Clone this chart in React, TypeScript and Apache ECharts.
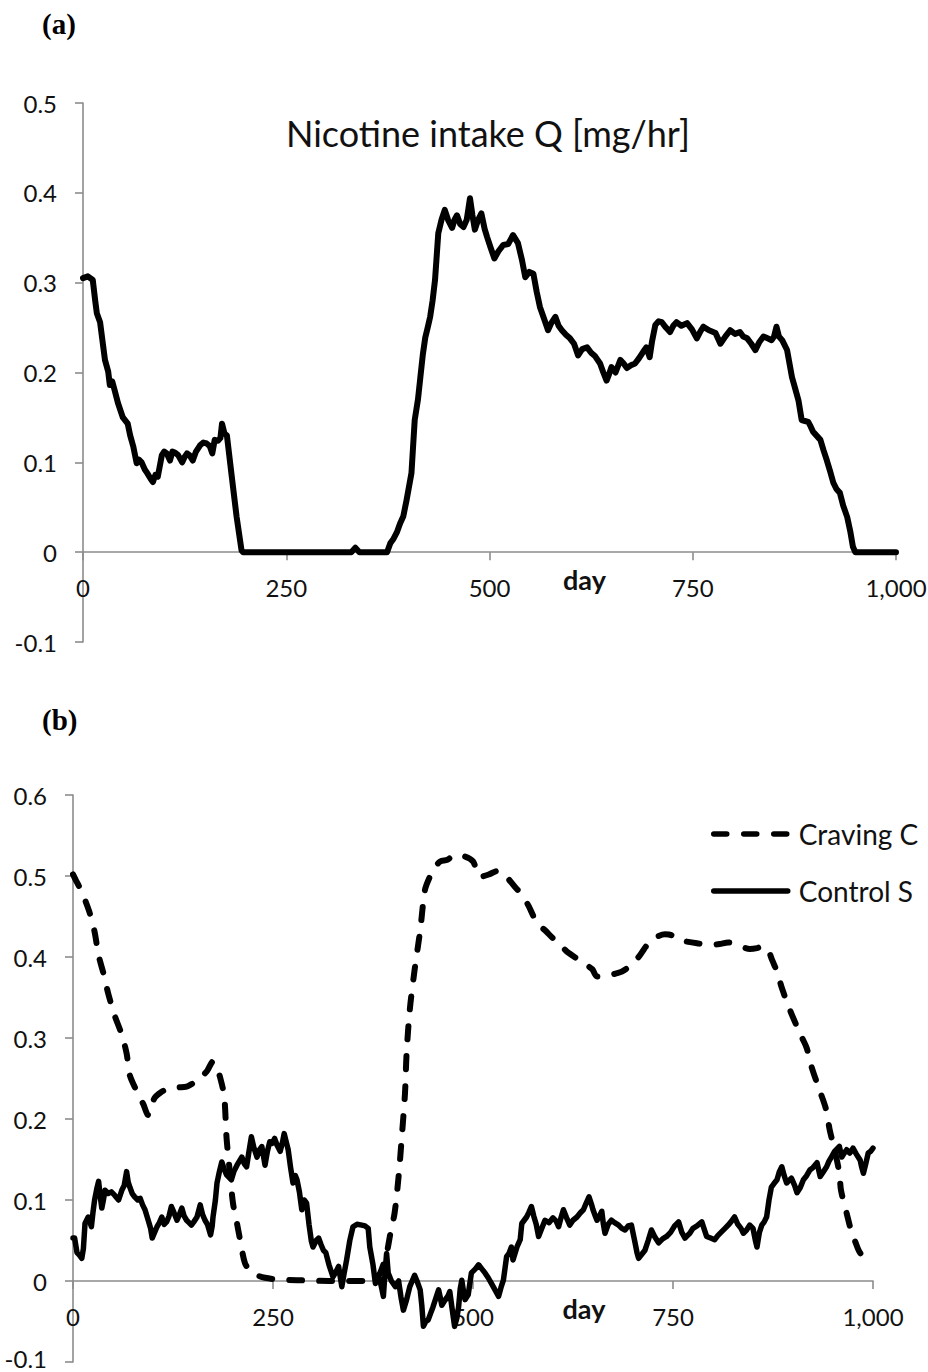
import React, { useEffect, useRef } from "react";
import * as echarts from "echarts";

// ---- Panel (a): Nicotine intake Q [mg/hr]
const qDays = [0, 6, 12, 15, 17, 21, 24, 27, 31, 33, 36, 39, 43, 49, 55, 58, 62, 66, 69, 72, 76, 79, 83, 86, 89, 92, 97, 100, 103, 107, 110, 113, 117, 122, 125, 128, 131, 135, 139, 144, 148, 152, 156, 159, 162, 166, 169, 171, 174, 177, 183, 189, 195, 197, 330, 335, 340, 374, 378, 382, 386, 390, 394, 398, 404, 408, 412, 415, 418, 421, 424, 427, 430, 433, 437, 441, 445, 449, 454, 457, 460, 464, 468, 472, 476, 479, 482, 486, 490, 494, 497, 501, 506, 511, 517, 523, 529, 535, 540, 544, 549, 554, 558, 562, 567, 572, 576, 581, 585, 589, 594, 599, 604, 609, 614, 620, 625, 630, 636, 640, 644, 647, 650, 655, 661, 665, 669, 674, 679, 684, 689, 693, 697, 700, 704, 708, 712, 717, 722, 726, 730, 736, 743, 749, 755, 759, 763, 770, 778, 784, 790, 796, 802, 808, 812, 817, 822, 827, 832, 837, 842, 847, 850, 853, 856, 860, 866, 872, 876, 880, 884, 888, 892, 895, 898, 902, 907, 911, 915, 919, 923, 927, 931, 935, 940, 944, 947, 950, 1000];
const qValues = [0.305, 0.307, 0.303, 0.28, 0.266, 0.256, 0.235, 0.214, 0.201, 0.186, 0.19, 0.18, 0.166, 0.15, 0.143, 0.13, 0.117, 0.099, 0.103, 0.1, 0.092, 0.088, 0.082, 0.078, 0.086, 0.084, 0.108, 0.112, 0.11, 0.102, 0.112, 0.111, 0.108, 0.1, 0.106, 0.11, 0.108, 0.102, 0.112, 0.119, 0.122, 0.121, 0.118, 0.11, 0.125, 0.124, 0.127, 0.143, 0.132, 0.13, 0.084, 0.039, 0.002, 0, 0, 0.005, 0, 0, 0.01, 0.015, 0.022, 0.032, 0.04, 0.058, 0.088, 0.147, 0.17, 0.195, 0.22, 0.239, 0.25, 0.262, 0.28, 0.303, 0.355, 0.37, 0.381, 0.37, 0.361, 0.37, 0.375, 0.365, 0.362, 0.37, 0.394, 0.375, 0.359, 0.37, 0.377, 0.36, 0.351, 0.34, 0.327, 0.335, 0.342, 0.343, 0.353, 0.344, 0.325, 0.306, 0.312, 0.31, 0.29, 0.273, 0.26, 0.247, 0.255, 0.262, 0.252, 0.247, 0.242, 0.238, 0.232, 0.219, 0.226, 0.228, 0.222, 0.218, 0.21, 0.2, 0.191, 0.198, 0.206, 0.2, 0.214, 0.21, 0.205, 0.208, 0.21, 0.216, 0.223, 0.228, 0.217, 0.235, 0.253, 0.257, 0.256, 0.25, 0.245, 0.252, 0.256, 0.252, 0.255, 0.248, 0.238, 0.245, 0.251, 0.247, 0.244, 0.232, 0.24, 0.247, 0.243, 0.245, 0.24, 0.238, 0.232, 0.225, 0.234, 0.24, 0.238, 0.236, 0.24, 0.251, 0.24, 0.236, 0.225, 0.195, 0.182, 0.169, 0.147, 0.146, 0.145, 0.14, 0.134, 0.13, 0.125, 0.113, 0.102, 0.09, 0.077, 0.07, 0.066, 0.052, 0.039, 0.022, 0.006, 0, 0];

// ---- Panel (b): Craving C (dashed)
const cDays = [0, 5, 11, 16, 21, 27, 32, 38, 44, 52, 61, 67, 71, 76, 82, 88, 94, 98, 102, 110, 118, 123, 132, 142, 150, 155, 161, 168, 175, 180, 184, 189, 192, 196, 200, 205, 210, 215, 222, 230, 240, 255, 280, 320, 370, 378, 384, 392, 397, 402, 407, 411, 415, 417, 421, 427, 434, 440, 446, 452, 459, 468, 477, 490, 500, 509, 520, 530, 538, 552, 560, 569, 580, 590, 600, 608, 617, 630, 642, 649, 655, 664, 671, 680, 686, 695, 707, 714, 721, 730, 740, 748, 757, 767, 780, 796, 808, 819, 832, 846, 855, 861, 866, 869, 874, 880, 886, 896, 905, 911, 917, 923, 933, 941, 946, 952, 958, 960, 967, 973, 978, 983, 991, 998];
const cValues = [0.502, 0.492, 0.481, 0.468, 0.454, 0.431, 0.402, 0.38, 0.355, 0.328, 0.304, 0.281, 0.254, 0.242, 0.23, 0.218, 0.205, 0.215, 0.226, 0.233, 0.237, 0.238, 0.239, 0.24, 0.244, 0.246, 0.252, 0.26, 0.271, 0.262, 0.251, 0.228, 0.176, 0.135, 0.096, 0.071, 0.045, 0.022, 0.012, 0.007, 0.004, 0.002, 0.001, 0, 0, 0.004, 0.01, 0.034, 0.06, 0.084, 0.129, 0.178, 0.232, 0.281, 0.335, 0.384, 0.433, 0.483, 0.499, 0.51, 0.518, 0.52, 0.526, 0.524, 0.518, 0.499, 0.502, 0.506, 0.503, 0.487, 0.478, 0.464, 0.442, 0.433, 0.423, 0.416, 0.407, 0.398, 0.39, 0.385, 0.376, 0.378, 0.378, 0.38, 0.382, 0.388, 0.4, 0.41, 0.419, 0.425, 0.428, 0.427, 0.421, 0.419, 0.417, 0.415, 0.416, 0.418, 0.414, 0.41, 0.411, 0.413, 0.412, 0.409, 0.396, 0.382, 0.362, 0.335, 0.314, 0.301, 0.288, 0.265, 0.236, 0.213, 0.186, 0.162, 0.133, 0.112, 0.084, 0.061, 0.048, 0.036, 0.026, 0.018];

// ---- Panel (b): Control S (solid)
const sDays = [0, 2, 5, 8, 11, 13, 15, 19, 23, 25, 27, 30, 32, 34, 36, 38, 40, 44, 48, 52, 57, 61, 64, 67, 69, 71, 74, 77, 81, 84, 87, 90, 94, 97, 99, 102, 105, 108, 111, 114, 117, 120, 123, 126, 130, 133, 136, 139, 142, 145, 148, 151, 155, 159, 162, 165, 168, 172, 174, 175, 178, 180, 183, 186, 189, 192, 195, 198, 201, 205, 208, 211, 214, 217, 220, 223, 226, 230, 233, 236, 238, 240, 243, 246, 249, 252, 255, 259, 262, 264, 267, 269, 272, 275, 278, 280, 283, 286, 289, 292, 295, 298, 300, 304, 307, 310, 313, 316, 320, 325, 328, 332, 336, 339, 342, 346, 350, 355, 361, 365, 369, 371, 375, 378, 382, 385, 388, 390, 392, 394, 398, 403, 407, 410, 413, 417, 421, 424, 427, 430, 434, 436, 438, 441, 444, 447, 450, 454, 457, 459, 461, 464, 467, 469, 471, 474, 477, 480, 482, 484, 486, 488, 490, 494, 498, 503, 507, 511, 515, 519, 523, 527, 532, 535, 538, 542, 545, 548, 550, 555, 559, 561, 564, 567, 570, 573, 576, 579, 582, 586, 590, 595, 600, 604, 607, 610, 613, 617, 621, 625, 630, 634, 638, 641, 645, 648, 650, 653, 655, 658, 661, 663, 665, 669, 673, 677, 682, 686, 690, 694, 698, 702, 705, 707, 711, 715, 719, 723, 727, 732, 737, 742, 747, 752, 757, 761, 765, 768, 771, 775, 780, 786, 789, 792, 797, 802, 806, 810, 815, 820, 824, 827, 831, 835, 838, 842, 846, 850, 853, 855, 858, 861, 864, 867, 870, 873, 876, 880, 883, 886, 889, 892, 895, 898, 902, 905, 909, 913, 917, 921, 925, 930, 934, 938, 942, 945, 948, 952, 955, 958, 961, 964, 967, 971, 975, 979, 984, 986, 988, 991, 994, 997, 1000];
const sValues = [0.053, 0.053, 0.035, 0.032, 0.028, 0.04, 0.071, 0.079, 0.067, 0.085, 0.1, 0.115, 0.123, 0.105, 0.09, 0.1, 0.112, 0.108, 0.11, 0.106, 0.1, 0.112, 0.118, 0.135, 0.122, 0.116, 0.108, 0.104, 0.1, 0.102, 0.094, 0.088, 0.075, 0.065, 0.053, 0.06, 0.067, 0.072, 0.079, 0.07, 0.073, 0.08, 0.092, 0.085, 0.075, 0.082, 0.09, 0.08, 0.075, 0.072, 0.069, 0.073, 0.079, 0.094, 0.082, 0.075, 0.07, 0.057, 0.068, 0.079, 0.1, 0.121, 0.135, 0.147, 0.138, 0.131, 0.128, 0.125, 0.135, 0.143, 0.148, 0.153, 0.145, 0.141, 0.16, 0.178, 0.165, 0.153, 0.162, 0.166, 0.155, 0.143, 0.16, 0.172, 0.17, 0.176, 0.168, 0.16, 0.172, 0.182, 0.17, 0.162, 0.14, 0.121, 0.13, 0.125, 0.11, 0.088, 0.1, 0.096, 0.07, 0.049, 0.042, 0.05, 0.053, 0.045, 0.038, 0.035, 0.02, 0.005, 0.01, 0.018, -0.007, 0.01, 0.026, 0.05, 0.067, 0.07, 0.069, 0.068, 0.065, 0.042, 0.02, -0.003, 0.007, -0.005, -0.019, 0.01, 0.034, 0.01, 0, -0.007, 0, -0.02, -0.036, -0.023, -0.007, 0, 0.007, 0, -0.011, -0.03, -0.056, -0.05, -0.048, -0.04, -0.032, -0.02, -0.011, -0.02, -0.03, -0.025, -0.021, -0.018, -0.013, -0.035, -0.056, -0.045, -0.032, -0.01, 0.001, -0.012, -0.023, -0.017, 0.01, 0.015, 0.02, 0.015, 0.01, 0.004, -0.003, -0.01, -0.019, -0.008, 0.001, 0.03, 0.034, 0.042, 0.026, 0.042, 0.051, 0.071, 0.075, 0.079, 0.085, 0.092, 0.08, 0.07, 0.055, 0.065, 0.075, 0.072, 0.078, 0.074, 0.067, 0.078, 0.088, 0.078, 0.069, 0.075, 0.079, 0.084, 0.088, 0.095, 0.104, 0.095, 0.088, 0.08, 0.075, 0.08, 0.086, 0.07, 0.059, 0.07, 0.075, 0.072, 0.069, 0.065, 0.063, 0.068, 0.069, 0.05, 0.035, 0.028, 0.033, 0.038, 0.05, 0.063, 0.055, 0.047, 0.052, 0.055, 0.06, 0.068, 0.073, 0.06, 0.053, 0.056, 0.059, 0.065, 0.068, 0.073, 0.064, 0.055, 0.053, 0.051, 0.056, 0.06, 0.065, 0.07, 0.075, 0.079, 0.07, 0.065, 0.059, 0.063, 0.069, 0.065, 0.05, 0.042, 0.06, 0.069, 0.073, 0.079, 0.1, 0.116, 0.12, 0.125, 0.135, 0.141, 0.13, 0.121, 0.124, 0.127, 0.118, 0.109, 0.115, 0.125, 0.13, 0.137, 0.14, 0.146, 0.129, 0.135, 0.141, 0.148, 0.153, 0.16, 0.163, 0.166, 0.153, 0.158, 0.162, 0.158, 0.164, 0.157, 0.149, 0.14, 0.133, 0.145, 0.158, 0.16, 0.164];

const xTickLabels: Record<number, string> = { 0: "0", 250: "250", 500: "500", 750: "750", 1000: "1,000" };
const panelLabels = ["(a)", "(b)"];
const titleText = "Nicotine intake Q [mg/hr]";
const seriesNames = ["Nicotine intake Q", "Craving C", "Control S"];

const zip = (xs: number[], ys: number[]) => xs.map((x, i) => [x, ys[i]]);

export default function App() {
  const ref = useRef<HTMLDivElement>(null);

  useEffect(() => {
    const chart = echarts.init(ref.current!, null, { renderer: "svg" });
    const font = "Lato, 'Open Sans', sans-serif";
    const gray = "#8c8c8c";
    const ink = "#111111";

    // axis sits on the zero line: offset moves it up from the grid bottom
    const makeX = (gridIndex: number, shift: number, offset: number) => ({
      type: "value",
      gridIndex,
      min: 0,
      max: 1000,
      interval: 250,
      position: "bottom",
      offset,
      axisLine: { show: true, onZero: false, lineStyle: { color: gray, width: 1.6 } },
      axisTick: { show: true, length: 8, lineStyle: { color: gray, width: 1.6 } },
      axisLabel: {
        color: ink,
        fontSize: 24,
        lineHeight: 18,
        fontFamily: font,
        margin: 26,
        formatter: (v: number) => xTickLabels[Math.round(v)] ?? String(v),
      },
      splitLine: { show: false },
      name: "day",
      nameLocation: "middle",
      nameGap: 14,
      nameMoveOverlap: false,
      nameTextStyle: {
        color: ink,
        fontFamily: font,
        fontSize: 27,
        fontWeight: "bold",
        padding: [0, 0, 0, shift],
      },
    });

    const makeY = (gridIndex: number, max: number, liftMin: boolean) => ({
      type: "value",
      gridIndex,
      min: -0.1,
      max,
      interval: 0.1,
      axisLine: { show: true, onZero: false, lineStyle: { color: gray, width: 1.6 } },
      axisTick: { show: true, length: 8, lineStyle: { color: gray, width: 1.6 } },
      axisLabel: {
        color: ink,
        fontSize: 24,
        lineHeight: 18,
        fontFamily: font,
        margin: 26,
        formatter: (v: number) => {
          const r = Math.round(v * 10) / 10;
          const s = r === 0 ? "0" : String(r);
          return liftMin && r === -0.1 ? `{lo|${s}}` : s;
        },
        rich: {
          lo: {
            color: ink,
            fontSize: 24,
            lineHeight: 18,
            fontFamily: font,
            padding: [0, 0, 8, 0],
          },
        },
      },
      splitLine: { show: false },
    });

    chart.setOption({
      animation: false,
      backgroundColor: "#ffffff",
      title: [
        {
          text: panelLabels[0],
          left: 37,
          top: 4,
          textStyle: { fontFamily: "'Liberation Serif', serif", fontWeight: "bold", fontSize: 29, color: "#000" },
        },
        {
          text: panelLabels[1],
          left: 37,
          top: 700,
          textStyle: { fontFamily: "'Liberation Serif', serif", fontWeight: "bold", fontSize: 29, color: "#000" },
        },
      ],
      graphic: [
        {
          type: "text",
          x: 488,
          y: 133,
          style: {
            text: titleText,
            font: "normal 36px Lato, 'Open Sans', sans-serif",
            fill: ink,
            align: "center",
            verticalAlign: "middle",
            textAlign: "center",
            textVerticalAlign: "middle",
          },
        },
      ],
      legend: {
        data: [seriesNames[1], seriesNames[2]],
        orient: "vertical",
        left: 706,
        top: 814,
        itemWidth: 74,
        itemHeight: 14,
        itemGap: 27,
        itemStyle: { opacity: 0 },
        lineStyle: { width: 5.5 },
        textStyle: { fontFamily: font, fontSize: 28, color: ink, lineHeight: 30, padding: [0, 0, 0, 6] },
      },
      grid: [
        { left: 83, top: 103, width: 813, height: 539, containLabel: false, outerBoundsMode: "none" },
        { left: 73, top: 795, width: 800, height: 567, containLabel: false, outerBoundsMode: "none" },
      ],
      xAxis: [makeX(0, 190, -89.83), makeX(1, 222, -81)],
      yAxis: [makeY(0, 0.5, false), makeY(1, 0.6, true)],
      series: [
        {
          type: "line",
          name: seriesNames[0],
          xAxisIndex: 0,
          yAxisIndex: 0,
          data: zip(qDays, qValues),
          symbol: "none",
          showSymbol: false,
          silent: true,
          lineStyle: { color: "#000", width: 6, cap: "round", join: "round" },
          itemStyle: { color: "#000" },
        },
        {
          type: "line",
          name: seriesNames[1],
          xAxisIndex: 1,
          yAxisIndex: 1,
          data: zip(cDays, cValues),
          symbol: "none",
          showSymbol: false,
          silent: true,
          smooth: 0.3,
          lineStyle: { color: "#000", width: 6, type: [13, 17], cap: "round", join: "round" },
          itemStyle: { color: "#000" },
        },
        {
          type: "line",
          name: seriesNames[2],
          xAxisIndex: 1,
          yAxisIndex: 1,
          data: zip(sDays, sValues),
          symbol: "none",
          showSymbol: false,
          silent: true,
          lineStyle: { color: "#000", width: 5.5, cap: "round", join: "round" },
          itemStyle: { color: "#000" },
        },
      ],
    });

    return () => chart.dispose();
  }, []);

  return (
    <div
      ref={ref}
      style={{
        position: "absolute",
        left: 0,
        top: 0,
        width: 928,
        height: 1372,
        background: "#fff",
        fontVariantLigatures: "none",
        fontFeatureSettings: '"liga" 0, "clig" 0, "dlig" 0',
      }}
    />
  );
}
